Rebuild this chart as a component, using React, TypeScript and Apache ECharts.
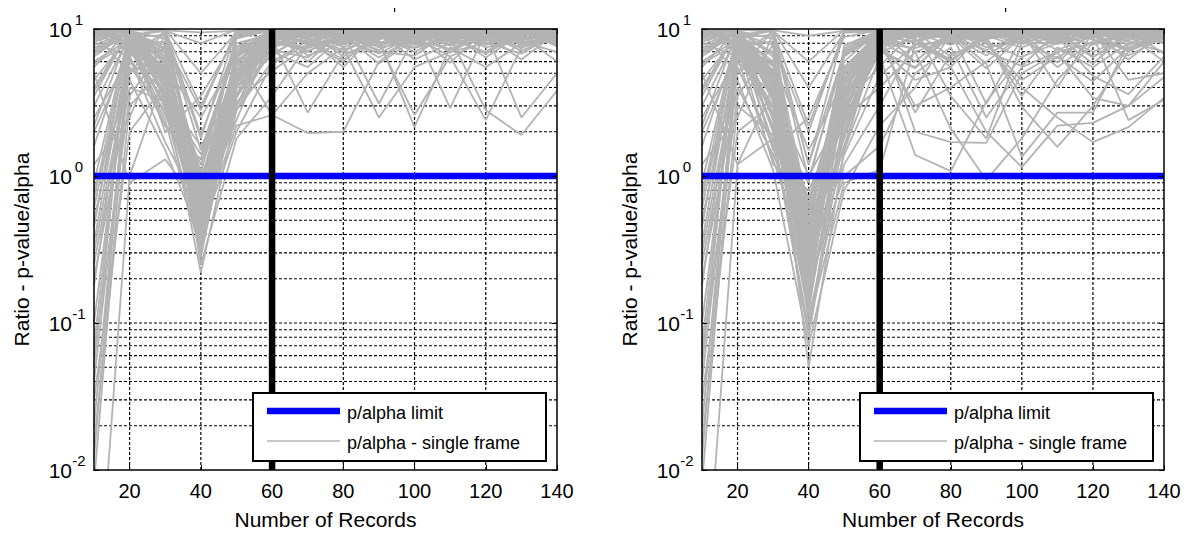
import React, { useEffect, useRef } from 'react';
import * as echarts from 'echarts';

const records = [10, 20, 30, 40, 50, 60, 70, 80, 90, 100, 110, 120, 130, 140];
const xTickLabels = [20, 40, 60, 80, 100, 120, 140];
const xGridValues = [20, 40, 60, 80, 100, 120];
const yGridValues = [
  0.02, 0.03, 0.04, 0.05, 0.06, 0.07, 0.08, 0.09, 0.1,
  0.2, 0.3, 0.4, 0.5, 0.6, 0.7, 0.8, 0.9, 1,
  2, 3, 4, 5, 6, 7, 8, 9,
];
const limitValue = 1;
const cutoffRecords = 60;

const leftFrames = [
  [9.5, 9.8, 4.2, 0.35, 4.5, 8.5, 9.6, 9.0, 9.8, 8.7, 9.5, 9.9, 9.2, 9.7],
  [6.0, 8.5, 3.0, 0.5, 3.5, 9.2, 8.0, 9.5, 7.8, 9.6, 9.0, 8.4, 9.7, 9.3],
  [3.0, 9.0, 6.2, 0.42, 2.8, 7.5, 8.8, 7.2, 9.1, 8.2, 9.8, 7.9, 8.6, 9.8],
  [0.02, 7.5, 2.4, 0.3, 6.0, 9.6, 7.1, 8.6, 6.8, 9.1, 7.7, 9.3, 8.0, 9.0],
  [0.0005, 1.0, 5.0, 0.55, 4.0, 8.2, 9.5, 6.5, 8.9, 7.0, 9.2, 8.8, 9.6, 8.3],
  [0.05, 9.9, 3.5, 0.22, 2.8, 6.0, 8.3, 9.8, 8.0, 9.9, 6.9, 9.6, 7.4, 9.9],
  [8.0, 6.5, 9.6, 0.65, 5.2, 9.9, 6.6, 8.0, 9.7, 7.8, 8.5, 7.0, 9.9, 7.6],
  [0.8, 4.5, 1.5, 0.38, 3.2, 5.2, 7.6, 9.2, 5.8, 8.5, 9.6, 8.1, 6.8, 9.4],
  [0.1, 8.0, 2.6, 0.75, 6.0, 8.8, 9.9, 7.5, 9.4, 6.2, 8.0, 9.0, 8.9, 8.6],
  [9.9, 9.5, 4.8, 0.9, 5.0, 7.0, 5.5, 9.0, 7.2, 9.3, 5.9, 9.8, 8.2, 7.0],
  [0.015, 3.0, 5.5, 0.28, 4.2, 9.4, 8.6, 5.5, 9.9, 8.0, 9.3, 6.4, 9.4, 9.6],
  [5.0, 0.9, 1.3, 0.6, 6.5, 2.6, 1.96, 2.0, 6.0, 9.0, 8.4, 9.4, 7.1, 9.2],
  [7.0, 9.7, 4.0, 0.45, 2.2, 2.6, 5.0, 7.5, 2.5, 5.5, 7.0, 8.0, 9.0, 8.0],
  [0.3, 6.0, 3.8, 1.2, 7.5, 9.0, 9.2, 8.8, 8.4, 2.15, 7.5, 5.5, 8.0, 9.9],
  [9.0, 9.9, 9.9, 5.0, 9.5, 9.8, 9.9, 9.6, 9.9, 9.4, 9.9, 9.7, 9.9, 9.8],
  [4.5, 9.0, 9.7, 8.0, 9.9, 9.5, 9.0, 9.9, 8.8, 9.9, 9.4, 9.9, 9.5, 9.9],
  [2.0, 7.0, 5.5, 2.5, 6.5, 9.9, 9.7, 9.4, 9.6, 9.7, 2.9, 9.5, 9.8, 9.5],
  [0.6, 8.8, 3.5, 1.6, 4.0, 8.5, 2.7, 6.8, 8.0, 2.6, 6.5, 2.4, 7.5, 8.8],
  [0.04, 5.5, 2.8, 0.33, 3.5, 6.8, 9.0, 9.4, 3.1, 8.8, 9.0, 9.5, 2.5, 5.0],
  [9.6, 8.2, 5.6, 0.7, 4.5, 9.3, 8.0, 6.0, 9.6, 9.5, 8.8, 2.8, 1.9, 3.8],
  [1.2, 2.5, 9.3, 1.8, 9.8, 9.7, 6.0, 9.7, 7.5, 8.2, 9.9, 9.1, 9.3, 9.0],
  [8.5, 9.3, 7.8, 0.25, 1.8, 3.5, 7.8, 8.2, 9.2, 9.8, 9.5, 9.9, 9.7, 9.7],
  [0.008, 6.8, 4.5, 0.5, 5.5, 9.0, 9.4, 9.7, 9.5, 9.0, 9.7, 8.7, 9.9, 8.9],
  [6.5, 9.6, 2.0, 3.5, 8.8, 9.9, 9.8, 9.9, 9.8, 9.9, 9.6, 9.8, 9.6, 9.9],
  [3.5, 9.9, 6.5, 0.4, 5.8, 9.7, 9.6, 8.4, 9.0, 7.5, 9.2, 7.8, 9.1, 6.0],
  [0.2, 4.0, 3.2, 0.8, 4.8, 8.9, 9.3, 9.9, 9.7, 9.6, 7.9, 9.2, 6.2, 9.5],
  [9.8, 9.9, 5.2, 0.36, 6.8, 9.5, 9.9, 9.3, 9.9, 9.8, 9.9, 9.9, 9.9, 9.9],
  [0.07, 9.4, 5.2, 1.0, 3.6, 8.7, 9.1, 9.9, 8.6, 9.2, 9.8, 8.9, 9.8, 8.5],
  [7.5, 8.6, 4.4, 0.48, 4.8, 9.8, 8.9, 9.5, 9.8, 9.9, 9.4, 9.9, 9.9, 9.6],
  [9.9, 7.8, 8.2, 2.8, 9.9, 9.9, 9.6, 9.8, 9.9, 9.5, 9.9, 9.6, 9.8, 9.9],
  [0.45, 9.7, 6.0, 0.62, 5.2, 9.4, 9.8, 9.9, 9.6, 9.9, 9.8, 9.9, 9.3, 9.8],
  [2.5, 6.3, 1.7, 0.58, 2.4, 9.1, 9.7, 9.6, 9.9, 9.7, 9.5, 9.8, 9.9, 9.7],
  [0.012, 9.2, 3.4, 1.4, 7.2, 9.6, 9.9, 9.8, 9.7, 9.9, 9.9, 9.8, 9.9, 9.9],
  [9.3, 5.0, 9.8, 9.5, 9.7, 9.9, 9.5, 9.9, 9.8, 9.6, 9.9, 9.9, 9.8, 9.9],
  [5.5, 9.9, 6.8, 0.3, 5.2, 9.8, 9.7, 9.8, 9.9, 9.8, 9.9, 9.9, 9.9, 9.8],
  [0.03, 2.0, 4.2, 0.7, 6.6, 9.9, 9.9, 9.7, 9.9, 9.9, 9.8, 9.9, 9.9, 9.9],
  [9.7, 9.9, 7.2, 0.95, 5.9, 9.9, 9.9, 9.9, 9.9, 9.9, 9.9, 9.9, 9.9, 9.9],
  [0.9, 9.8, 3.9, 0.52, 6.2, 8.0, 7.4, 8.8, 9.2, 8.6, 9.1, 9.3, 8.7, 9.4],
  [8.8, 9.2, 6.0, 0.55, 3.0, 7.8, 8.4, 6.2, 8.7, 9.4, 7.2, 8.9, 9.6, 8.1],
  [7.2, 9.9, 4.5, 0.62, 4.0, 6.6, 9.8, 8.9, 6.4, 8.9, 9.5, 7.5, 8.4, 9.5],
  [0.35, 8.3, 2.9, 0.85, 5.2, 7.2, 6.4, 9.6, 8.2, 7.4, 8.7, 9.7, 7.8, 8.9],
  [9.4, 7.2, 3.2, 0.4, 2.0, 5.8, 7.9, 8.1, 9.5, 8.9, 6.5, 8.3, 9.2, 9.7],
  [4.0, 9.5, 5.0, 0.7, 3.6, 9.0, 8.2, 9.3, 7.0, 6.6, 9.6, 8.5, 7.6, 8.8],
  [0.5, 6.5, 2.2, 1.1, 6.0, 7.6, 9.4, 7.8, 9.8, 8.4, 7.3, 9.6, 9.0, 8.2],
  [9.9, 8.9, 7.0, 0.32, 3.4, 8.3, 7.0, 9.5, 8.5, 9.7, 8.9, 6.8, 9.5, 9.1],
  [6.8, 9.4, 5.8, 0.46, 4.6, 9.7, 8.5, 7.0, 9.3, 7.9, 9.7, 9.2, 8.3, 9.8],
  [2.2, 9.6, 4.6, 0.68, 6.8, 8.6, 9.6, 9.0, 7.6, 9.2, 8.2, 9.5, 9.7, 7.8],
  [0.25, 5.2, 6.0, 0.9, 3.0, 9.5, 8.0, 8.5, 9.0, 9.9, 9.1, 8.0, 8.8, 9.3],
  [9.5, 9.9, 3.6, 0.6, 4.4, 7.9, 9.3, 9.8, 9.6, 8.6, 9.9, 9.4, 9.6, 9.5],
  [5.8, 8.0, 2.2, 1.3, 8.6, 9.9, 8.8, 9.2, 9.9, 9.5, 8.6, 9.9, 8.5, 9.6],
  [8.2, 9.6, 6.4, 0.78, 4.9, 9.6, 9.5, 9.7, 9.4, 9.7, 9.6, 9.5, 9.9, 9.2],
  [0.18, 7.8, 4.8, 0.44, 5.6, 8.4, 9.7, 8.7, 9.6, 9.3, 9.4, 9.0, 9.4, 9.9],
  [9.2, 9.0, 9.9, 1.9, 8.0, 9.2, 9.0, 9.6, 9.9, 9.8, 9.2, 9.7, 9.7, 9.4],
  [3.8, 9.8, 7.4, 0.56, 6.4, 9.3, 9.9, 9.4, 9.5, 9.9, 9.7, 9.9, 9.5, 9.9],
  [9.9, 9.9, 9.6, 3.0, 9.4, 9.7, 9.8, 9.9, 9.7, 9.9, 9.8, 9.9, 9.9, 9.9],
  [1.6, 8.5, 5.4, 0.88, 5.2, 9.8, 9.6, 9.9, 9.9, 9.6, 9.9, 9.8, 9.7, 9.9],
  [9.1, 9.7, 8.6, 0.72, 7.0, 9.9, 9.9, 9.6, 9.8, 9.9, 9.9, 9.6, 9.9, 9.8],
  [0.06, 3.5, 7.8, 1.05, 9.3, 9.5, 9.7, 9.9, 9.8, 9.8, 9.6, 9.9, 9.8, 9.9],
  [7.8, 9.5, 3.3, 0.66, 3.9, 9.9, 9.8, 9.8, 9.9, 9.9, 9.9, 9.9, 9.9, 9.9],
  [9.6, 8.8, 9.1, 1.5, 7.6, 9.7, 9.9, 9.9, 9.9, 9.7, 9.9, 9.9, 9.9, 9.9],
  [0.7, 9.9, 5.9, 0.54, 4.6, 9.8, 9.9, 9.9, 9.9, 9.9, 9.9, 9.9, 9.9, 9.9],
  [9.4, 9.9, 9.9, 0.82, 9.1, 9.9, 9.9, 9.9, 9.9, 9.9, 9.9, 9.9, 9.9, 9.9],
];

const rightFrames = [
  [9.5, 9.8, 3.2, 0.12, 3.5, 8.0, 9.5, 9.0, 9.8, 8.7, 9.5, 9.9, 9.2, 9.7],
  [6.0, 8.5, 5.0, 0.05, 1.5, 6.5, 1.39, 1.08, 3.2, 6.5, 8.0, 9.0, 7.0, 9.5],
  [3.0, 9.0, 2.0, 0.09, 2.5, 4.0, 7.0, 2.1, 0.94, 1.8, 4.5, 8.0, 9.4, 8.8],
  [0.02, 7.5, 3.0, 0.2, 4.0, 7.5, 4.5, 5.5, 2.0, 1.15, 2.2, 2.3, 3.0, 4.7],
  [0.0006, 1.2, 4.0, 0.15, 2.2, 8.2, 9.5, 6.5, 8.9, 2.95, 1.58, 3.0, 7.0, 9.0],
  [0.05, 9.9, 2.5, 0.11, 1.2, 3.0, 8.3, 9.8, 8.0, 4.0, 2.5, 1.7, 2.15, 3.4],
  [8.0, 6.5, 9.6, 0.3, 2.8, 9.9, 2.0, 1.7, 1.68, 5.0, 6.9, 3.4, 3.0, 6.0],
  [0.8, 4.5, 1.1, 0.07, 0.8, 2.2, 4.0, 9.2, 5.8, 1.35, 2.7, 2.7, 8.0, 9.4],
  [0.1, 8.0, 2.6, 0.25, 3.8, 8.8, 9.9, 3.5, 1.8, 8.0, 8.0, 9.0, 2.4, 3.3],
  [9.9, 9.5, 4.4, 0.4, 3.0, 7.0, 5.5, 9.0, 7.2, 9.3, 5.9, 9.8, 8.2, 7.0],
  [0.015, 3.0, 1.9, 0.08, 2.0, 9.4, 8.6, 5.5, 9.9, 8.0, 9.3, 6.4, 9.4, 9.6],
  [5.0, 1.2, 1.8, 0.5, 1.9, 8.0, 3.0, 4.0, 6.0, 9.0, 8.4, 9.4, 7.1, 9.2],
  [7.0, 9.7, 4.0, 0.18, 1.0, 1.6, 5.0, 7.5, 2.5, 5.5, 7.0, 8.0, 9.0, 8.0],
  [0.3, 6.0, 3.6, 0.7, 4.2, 9.0, 9.2, 8.8, 8.4, 3.5, 7.5, 5.5, 8.0, 9.9],
  [9.0, 9.9, 9.9, 4.0, 9.5, 9.8, 9.9, 9.6, 9.9, 9.4, 9.9, 9.7, 9.9, 9.8],
  [4.5, 9.0, 9.7, 6.0, 9.9, 9.5, 9.0, 9.9, 8.8, 9.9, 9.4, 9.9, 9.5, 9.9],
  [2.0, 7.0, 6.0, 1.5, 4.5, 9.9, 9.7, 9.4, 9.6, 9.7, 4.0, 9.5, 9.8, 9.5],
  [0.6, 8.8, 3.5, 1.0, 2.8, 8.5, 2.7, 6.8, 8.0, 4.5, 6.5, 4.4, 7.5, 8.8],
  [0.04, 5.5, 1.6, 0.13, 2.5, 6.8, 9.0, 9.4, 3.1, 8.8, 9.0, 9.5, 4.5, 5.0],
  [9.6, 8.2, 5.6, 0.35, 3.3, 9.3, 8.0, 6.0, 9.6, 9.5, 8.8, 4.8, 3.6, 6.5],
  [1.2, 2.5, 9.3, 1.2, 9.8, 9.7, 6.0, 9.7, 7.5, 8.2, 9.9, 9.1, 9.3, 9.0],
  [8.5, 9.3, 7.8, 0.1, 0.9, 1.1, 7.8, 8.2, 9.2, 9.8, 9.5, 9.9, 9.7, 9.7],
  [0.008, 6.8, 2.7, 0.22, 5.2, 9.0, 9.4, 9.7, 9.5, 9.0, 9.7, 8.7, 9.9, 8.9],
  [6.5, 9.6, 1.5, 2.5, 8.8, 9.9, 9.8, 9.9, 9.8, 9.9, 9.6, 9.8, 9.6, 9.9],
  [3.5, 9.9, 5.0, 0.16, 4.2, 9.7, 9.6, 8.4, 9.0, 7.5, 9.2, 7.8, 9.1, 6.0],
  [0.2, 4.0, 1.4, 0.45, 6.8, 8.9, 9.3, 9.9, 9.7, 9.6, 7.9, 9.2, 6.2, 9.5],
  [9.8, 9.9, 3.8, 0.14, 5.5, 9.5, 9.9, 9.3, 9.9, 9.8, 9.9, 9.9, 9.9, 9.9],
  [0.07, 9.4, 5.2, 0.6, 2.3, 8.7, 9.1, 9.9, 8.6, 9.2, 9.8, 8.9, 9.8, 8.5],
  [7.5, 8.6, 9.8, 0.28, 3.8, 9.8, 8.9, 9.5, 9.8, 9.9, 9.4, 9.9, 9.9, 9.6],
  [9.9, 7.8, 8.2, 2.0, 9.9, 9.9, 9.6, 9.8, 9.9, 9.5, 9.9, 9.6, 9.8, 9.9],
  [0.45, 9.7, 4.6, 0.32, 2.9, 9.4, 9.8, 9.9, 9.6, 9.9, 9.8, 9.9, 9.3, 9.8],
  [2.5, 6.3, 1.3, 0.24, 1.6, 9.1, 9.7, 9.6, 9.9, 9.7, 9.5, 9.8, 9.9, 9.7],
  [0.012, 9.2, 2.1, 0.9, 7.2, 9.6, 9.9, 9.8, 9.7, 9.9, 9.9, 9.8, 9.9, 9.9],
  [9.3, 5.0, 9.8, 9.0, 9.7, 9.9, 9.5, 9.9, 9.8, 9.6, 9.9, 9.9, 9.8, 9.9],
  [5.5, 9.9, 6.8, 0.19, 4.8, 9.8, 9.7, 9.8, 9.9, 9.8, 9.9, 9.9, 9.9, 9.8],
  [0.03, 2.0, 3.1, 0.38, 4.4, 9.9, 9.9, 9.7, 9.9, 9.9, 9.8, 9.9, 9.9, 9.9],
  [9.7, 9.9, 6.5, 0.55, 3.7, 9.9, 9.9, 9.9, 9.9, 9.9, 9.9, 9.9, 9.9, 9.9],
  [0.9, 9.8, 2.4, 0.26, 5.0, 8.0, 7.4, 8.8, 9.2, 8.6, 9.1, 9.3, 8.7, 9.4],
  [8.8, 9.2, 6.0, 0.21, 2.0, 7.8, 8.4, 6.2, 8.7, 9.4, 7.2, 8.9, 9.6, 8.1],
  [7.2, 9.9, 3.5, 0.3, 3.0, 5.6, 9.8, 8.9, 5.4, 8.9, 9.5, 6.5, 8.4, 9.5],
  [0.35, 8.3, 1.7, 0.48, 4.2, 7.2, 5.4, 9.6, 8.2, 6.4, 8.7, 9.7, 7.8, 8.9],
  [9.4, 7.2, 2.2, 0.17, 1.4, 4.8, 7.9, 8.1, 9.5, 8.9, 5.5, 8.3, 9.2, 9.7],
  [4.0, 9.5, 4.1, 0.36, 2.6, 9.0, 8.2, 9.3, 7.0, 5.6, 9.6, 8.5, 6.6, 8.8],
  [0.5, 6.5, 2.9, 0.65, 5.0, 7.6, 9.4, 7.8, 9.8, 8.4, 6.3, 9.6, 9.0, 8.2],
  [9.9, 8.9, 7.0, 0.13, 2.4, 8.3, 6.0, 9.5, 8.5, 9.7, 8.9, 5.8, 9.5, 9.1],
  [6.8, 9.4, 4.8, 0.2, 3.6, 9.7, 8.5, 6.0, 9.3, 7.9, 9.7, 9.2, 7.3, 9.8],
  [2.2, 9.6, 5.2, 0.33, 1.8, 8.6, 9.6, 9.0, 6.6, 9.2, 8.2, 9.5, 9.7, 6.8],
  [0.25, 5.2, 6.0, 0.5, 6.5, 9.5, 7.0, 8.5, 9.0, 9.9, 9.1, 7.0, 8.8, 9.3],
  [9.5, 9.9, 3.4, 0.27, 3.4, 7.9, 9.3, 9.8, 9.6, 8.6, 9.9, 9.4, 9.6, 9.5],
  [5.8, 8.0, 1.2, 0.8, 2.6, 9.9, 8.8, 9.2, 9.9, 9.5, 8.6, 9.9, 8.5, 9.6],
  [8.2, 9.6, 4.4, 0.42, 6.9, 9.6, 9.5, 9.7, 9.4, 9.7, 9.6, 9.5, 9.9, 9.2],
  [0.18, 7.8, 3.8, 0.19, 4.6, 8.4, 9.7, 8.7, 9.6, 9.3, 9.4, 9.0, 9.4, 9.9],
  [9.2, 9.0, 9.9, 1.2, 7.0, 9.2, 9.0, 9.6, 9.9, 9.8, 9.2, 9.7, 9.7, 9.4],
  [3.8, 9.8, 2.0, 0.23, 5.4, 9.3, 9.9, 9.4, 9.5, 9.9, 9.7, 9.9, 9.5, 9.9],
  [9.9, 9.9, 9.6, 2.2, 9.4, 9.7, 9.8, 9.9, 9.7, 9.9, 9.8, 9.9, 9.9, 9.9],
  [1.6, 8.5, 3.7, 0.5, 1.5, 9.8, 9.6, 9.9, 9.9, 9.6, 9.9, 9.8, 9.7, 9.9],
  [9.1, 9.7, 8.6, 0.34, 6.0, 9.9, 9.9, 9.6, 9.8, 9.9, 9.9, 9.6, 9.9, 9.8],
  [0.06, 3.5, 7.8, 0.6, 4.9, 9.5, 9.7, 9.9, 9.8, 9.8, 9.6, 9.9, 9.8, 9.9],
  [7.8, 9.5, 5.7, 0.29, 7.4, 9.9, 9.8, 9.8, 9.9, 9.9, 9.9, 9.9, 9.9, 9.9],
  [9.6, 8.8, 9.1, 0.95, 6.6, 9.7, 9.9, 9.9, 9.9, 9.7, 9.9, 9.9, 9.9, 9.9],
  [0.7, 9.9, 2.6, 0.21, 7.7, 9.8, 9.9, 9.9, 9.9, 9.9, 9.9, 9.9, 9.9, 9.9],
  [9.4, 9.9, 4.3, 0.44, 3.1, 9.9, 9.9, 9.9, 9.9, 9.9, 9.9, 9.9, 9.9, 9.9],
];

const FONT = '"Liberation Sans", Arial, Helvetica, sans-serif';
const X_MIN = 10;
const X_MAX = 140;
const Y_MIN = 0.01;
const Y_MAX = 10;

function panelSeries(p: number, frames: number[][]) {
  const out: any[] = [];
  yGridValues.forEach((v) => {
    out.push({
      type: 'line', xAxisIndex: p, yAxisIndex: p, silent: true, showSymbol: false, z: 1,
      data: [[X_MIN, v], [X_MAX, v]],
      lineStyle: { color: '#000', width: 1.2, type: [3, 2] },
    });
  });
  xGridValues.forEach((v) => {
    out.push({
      type: 'line', xAxisIndex: p, yAxisIndex: p, silent: true, showSymbol: false, z: 1,
      data: [[v, Y_MIN], [v, Y_MAX]],
      lineStyle: { color: '#000', width: 1.2, type: [3, 2] },
    });
  });
  frames.forEach((f) => {
    out.push({
      type: 'line', name: 'p/alpha - single frame', xAxisIndex: p, yAxisIndex: p,
      silent: true, showSymbol: false, z: 2, clip: true,
      data: records.map((r, i) => [r, f[i]]),
      lineStyle: { color: '#b3b3b3', width: 1.8 },
    });
  });
  out.push({
    type: 'line', name: 'p/alpha limit', xAxisIndex: p, yAxisIndex: p, silent: true,
    showSymbol: false, z: 3,
    data: [[X_MIN, limitValue], [X_MAX, limitValue]],
    lineStyle: { color: '#0000ff', width: 6.5 },
  });
  out.push({
    type: 'line', xAxisIndex: p, yAxisIndex: p, silent: true, showSymbol: false, z: 4,
    data: [[cutoffRecords, Y_MIN], [cutoffRecords, Y_MAX]],
    lineStyle: { color: '#000', width: 6.5 },
  });
  return out;
}

function bottomX(p: number) {
  return {
    type: 'value', gridIndex: p, min: X_MIN, max: X_MAX, position: 'bottom', z: 10,
    name: 'Number of Records', nameLocation: 'middle', nameGap: 39,
    nameTextStyle: { fontSize: 21, color: '#000', fontFamily: FONT },
    axisLine: { onZero: false, lineStyle: { color: '#000', width: 1.5 } },
    axisTick: { inside: true, length: 5, customValues: xTickLabels, lineStyle: { color: '#000' } },
    axisLabel: { customValues: xTickLabels, fontSize: 20, color: '#000', fontFamily: FONT, margin: 11 },
    splitLine: { show: false },
  };
}
function topX(p: number) {
  return {
    type: 'value', gridIndex: p, min: X_MIN, max: X_MAX, position: 'top', z: 10,
    axisLine: { onZero: false, lineStyle: { color: '#000', width: 1.5 } },
    axisTick: { inside: true, length: 5, customValues: xTickLabels, lineStyle: { color: '#000' } },
    axisLabel: { show: false },
    splitLine: { show: false },
  };
}
function leftY(p: number) {
  return {
    type: 'log', logBase: 10, gridIndex: p, min: Y_MIN, max: Y_MAX, position: 'left', z: 10,
    name: 'Ratio - p-value/alpha', nameLocation: 'middle', nameGap: 62,
    nameTextStyle: { fontSize: 21, color: '#000', fontFamily: FONT },
    axisLine: { onZero: false, lineStyle: { color: '#000', width: 1.5 } },
    axisTick: { inside: true, length: 5, lineStyle: { color: '#000' } },
    axisLabel: {
      margin: 8,
      formatter: (v: number) => `{b|10}{s|${Math.round(Math.log10(v))}}`,
      rich: {
        b: { fontSize: 21, color: '#000', fontFamily: FONT },
        s: { fontSize: 15, color: '#000', fontFamily: FONT, width: 14, align: 'left', padding: [0, 0, 20, 0] },
      },
    },
    splitLine: { show: false },
  };
}
function rightY(p: number) {
  return {
    type: 'log', logBase: 10, gridIndex: p, min: Y_MIN, max: Y_MAX, position: 'right', z: 10,
    axisLine: { onZero: false, lineStyle: { color: '#000', width: 1.5 } },
    axisTick: { inside: true, length: 5, lineStyle: { color: '#000' } },
    axisLabel: { show: false },
    splitLine: { show: false },
  };
}

function legendGraphic(left: number) {
  const top = 393;
  return [
    { type: 'rect', z: 100, shape: { x: left, y: top, width: 293, height: 68 }, style: { fill: '#fff', stroke: '#000', lineWidth: 2 } },
    { type: 'line', z: 101, shape: { x1: left + 14, y1: top + 18, x2: left + 87, y2: top + 18 }, style: { stroke: '#0000ff', lineWidth: 6.5 } },
    { type: 'text', z: 101, x: left + 94, y: top + 20, style: { text: 'p/alpha limit', font: `18px ${FONT}`, fill: '#000', verticalAlign: 'middle' } },
    { type: 'line', z: 101, shape: { x1: left + 14, y1: top + 48, x2: left + 87, y2: top + 48 }, style: { stroke: '#b3b3b3', lineWidth: 1.5 } },
    { type: 'text', z: 101, x: left + 94, y: top + 50, style: { text: 'p/alpha - single frame', font: `18px ${FONT}`, fill: '#000', verticalAlign: 'middle' } },
  ];
}

export default function App() {
  const ref = useRef<HTMLDivElement>(null);
  useEffect(() => {
    if (!ref.current) return;
    const chart = echarts.init(ref.current, undefined, { renderer: 'svg' });
    chart.setOption({
      animation: false,
      backgroundColor: '#fff',
      grid: [
        { left: 94, top: 29, width: 463, height: 443 },
        { left: 702, top: 29, width: 462, height: 443 },
      ],
      xAxis: [bottomX(0), bottomX(1), topX(0), topX(1)],
      yAxis: [leftY(0), leftY(1), rightY(0), rightY(1)],
      series: [...panelSeries(0, leftFrames), ...panelSeries(1, rightFrames)],
      graphic: [
        ...legendGraphic(253),
        ...legendGraphic(860),
        { type: 'rect', z: 100, shape: { x: 394, y: 8, width: 1.2, height: 4 }, style: { fill: '#000' } },
        { type: 'rect', z: 100, shape: { x: 1005, y: 8, width: 1.2, height: 4 }, style: { fill: '#000' } },
      ],
    });
    return () => chart.dispose();
  }, []);
  return (
    <div
      ref={ref}
      style={{ position: 'absolute', left: 0, top: 0, width: 1190, height: 535, background: '#fff' }}
    />
  );
}
